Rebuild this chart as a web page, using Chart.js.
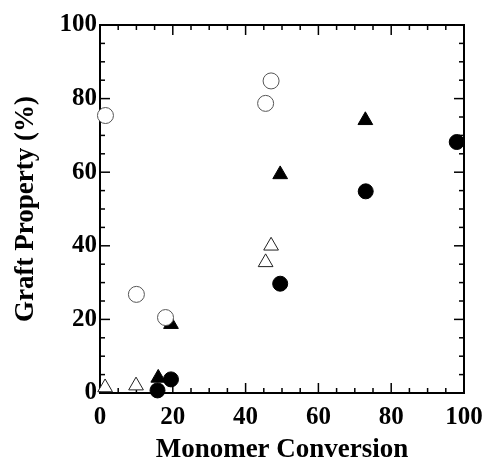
<!DOCTYPE html>
<html>
<head>
<meta charset="utf-8">
<script src="https://cdn.jsdelivr.net/npm/chart.js@4/dist/chart.umd.min.js"></script>
<style>
  html, body { margin: 0; padding: 0; background: #fff; }
  canvas { display: block; }
</style>
</head>
<body>
<canvas id="c" width="486" height="464"></canvas>
<script>
// Data
const openCircleX = [1.5, 10.0, 18.0, 45.5, 47.0];
const openCircleY = [75.4, 26.8, 20.5, 78.7, 84.8];
const openTriX = [1.4, 9.9, 45.5, 47.0];
const openTriY = [1.5, 2.0, 35.5, 40.0];
const filledTriX = [16.0, 19.5, 49.5, 72.9];
const filledTriY = [4.1, 18.7, 59.4, 74.1];
const filledCircX = [15.8, 19.5, 49.5, 73.0, 98.0];
const filledCircY = [0.7, 3.7, 29.7, 54.8, 68.2];
const xTitle = "Monomer Conversion";
const yTitle = "Graft Property (%)";

const toPts = (xs, ys) => xs.map((v, i) => ({ x: v, y: ys[i] }));
const FONT = "'Liberation Serif', 'Times New Roman', Times, serif";

const frame = {
  id: 'frame',
  beforeDatasetsDraw(chart) {
    const { ctx, chartArea: a, scales: { x, y } } = chart;
    ctx.save();
    ctx.strokeStyle = '#000';
    const line = (x1, y1, x2, y2) => { ctx.beginPath(); ctx.moveTo(x1, y1); ctx.lineTo(x2, y2); ctx.stroke(); };
    ctx.lineWidth = 1.5;
    for (let v = 0; v <= 100; v += 5) {
      const len = v % 20 === 0 ? 10 : 5;
      const px = x.getPixelForValue(v);
      line(px, a.bottom, px, a.bottom - len);
      line(px, a.top, px, a.top + len);
      const py = y.getPixelForValue(v);
      line(a.left, py, a.left + len, py);
      line(a.right, py, a.right - len, py);
    }
    ctx.lineWidth = 2;
    ctx.strokeRect(a.left, a.top, a.right - a.left, a.bottom - a.top);
    ctx.restore();
  }
};

new Chart(document.getElementById('c'), {
  type: 'scatter',
  data: {
    datasets: [
      { label: 'open circle', data: toPts(openCircleX, openCircleY), pointStyle: 'circle', pointRadius: 8,
        backgroundColor: '#fff', borderColor: '#555', borderWidth: 1, clip: false },
      { label: 'open triangle', data: toPts(openTriX, openTriY), pointStyle: 'triangle', pointRadius: 8.5,
        backgroundColor: '#fff', borderColor: '#222', borderWidth: 1, clip: false },
      { label: 'filled triangle', data: toPts(filledTriX, filledTriY), pointStyle: 'triangle', pointRadius: 8.5,
        backgroundColor: '#000', borderColor: '#000', borderWidth: 1, clip: false },
      { label: 'filled circle', data: toPts(filledCircX, filledCircY), pointStyle: 'circle', pointRadius: 7.5,
        backgroundColor: '#000', borderColor: '#000', borderWidth: 1, clip: false }
    ]
  },
  options: {
    responsive: false,
    animation: false,
    layout: { padding: { top: 25, right: 22, left: 0, bottom: 0 } },
    plugins: { legend: { display: false }, tooltip: { enabled: false } },
    scales: {
      x: {
        type: 'linear', min: 0, max: 100,
        grid: { display: false, drawTicks: false },
        border: { display: false },
        ticks: { stepSize: 20, padding: 10, color: '#000', font: { family: FONT, size: 25, weight: 'bold' } },
        title: { display: true, text: xTitle, color: '#000', padding: { top: 0, bottom: 0 },
                 font: { family: FONT, size: 27, weight: 'bold', lineHeight: 1 } },
        afterFit(s) { s.height = 71; s.paddingLeft = 0; s.paddingRight = 0; }
      },
      y: {
        type: 'linear', min: 0, max: 100,
        grid: { display: false, drawTicks: false },
        border: { display: false },
        ticks: { stepSize: 20, padding: 3, color: '#000', font: { family: FONT, size: 25, weight: 'bold' } },
        title: { display: true, text: yTitle, color: '#000', padding: { top: 13, bottom: 0 },
                 font: { family: FONT, size: 27, weight: 'bold', lineHeight: 1 } },
        afterFit(s) { s.width = 100; s.paddingTop = 0; s.paddingBottom = 0; }
      }
    }
  },
  plugins: [frame]
});
</script>
</body>
</html>
